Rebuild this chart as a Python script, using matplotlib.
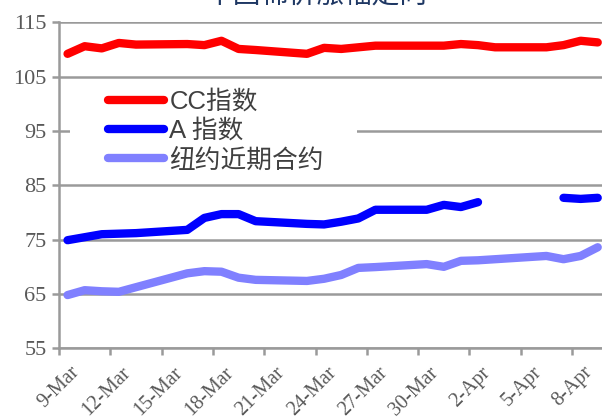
import matplotlib
matplotlib.use("Agg")
import matplotlib.pyplot as plt
import matplotlib.dates as mdates
import matplotlib.transforms as mtransforms
from matplotlib.patches import Rectangle
import numpy as np
import pandas as pd

title = "中国棉价涨幅走向"
dates = ["2015-03-09", "2015-03-10", "2015-03-11", "2015-03-12", "2015-03-13",
         "2015-03-16", "2015-03-17", "2015-03-18", "2015-03-19", "2015-03-20",
         "2015-03-23", "2015-03-24", "2015-03-25", "2015-03-26", "2015-03-27",
         "2015-03-30", "2015-03-31", "2015-04-01", "2015-04-02", "2015-04-03",
         "2015-04-06", "2015-04-07", "2015-04-08", "2015-04-09"]
cc_index = [109.2, 110.6, 110.2, 111.2, 110.9,
            111.0, 110.8, 111.6, 110.1, 109.9,
            109.2, 110.3, 110.1, 110.4, 110.7,
            110.7, 110.7, 111.0, 110.8, 110.4,
            110.4, 110.8, 111.6, 111.3]
a_index = [74.9, 75.45, 76.0, 76.1, 76.2,
           76.8, 79.0, 79.7, 79.7, 78.4,
           77.9, 77.8, 78.3, 78.9, 80.5,
           80.5, 81.4, 81.0, 81.9, np.nan,
           np.nan, 82.7, 82.5, 82.7]
ny_near = [64.8, 65.7, 65.5, 65.4, 66.25,
           68.8, 69.2, 69.1, 68.0, 67.6,
           67.4, 67.8, 68.5, 69.8, 69.95,
           70.5, 70.0, 71.1, 71.2, 71.4,
           72.0, 71.4, 72.0, 73.6]
labels = ["CC指数", "A 指数", "纽约近期合约"]
colors = ["#FF0000", "#0000FF", "#8080FF"]
yticks = [55, 65, 75, 85, 95, 105, 115]
xtick_dates = ["2015-03-09", "2015-03-12", "2015-03-15", "2015-03-18", "2015-03-21",
               "2015-03-24", "2015-03-27", "2015-03-30", "2015-04-02", "2015-04-05",
               "2015-04-08"]

x = pd.to_datetime(dates) + pd.Timedelta(hours=12)

fig = plt.figure(figsize=(6.02, 4.17), dpi=100)
ax = fig.add_axes([0.098, 0.1647, 0.902, 0.7818])

grid_c = "#9A9A9A"
for s, lab, c in zip([cc_index, a_index, ny_near], labels, colors):
    ax.plot(x, s, color=c, lw=6, solid_capstyle="round", solid_joinstyle="round",
            label=lab, zorder=3)

start = pd.Timestamp("2015-03-09")
ax.set_xlim(start, start + pd.Timedelta(days=31.75))
ax.set_ylim(55, 115)
ax.set_yticks(yticks)
ax.set_xticks(pd.to_datetime(xtick_dates))
ax.xaxis.set_major_formatter(mdates.DateFormatter("%-d-%b"))

ax.grid(axis="y", color=grid_c, lw=1.8, zorder=0)
ax.set_axisbelow(True)
for sp in ["top", "right"]:
    ax.spines[sp].set_visible(False)
for sp in ["left", "bottom"]:
    ax.spines[sp].set_color(grid_c)
    ax.spines[sp].set_linewidth(1.8)
ax.tick_params(axis="both", color=grid_c, width=1.8, length=5, direction="out")
ax.tick_params(axis="y", labelsize=16, labelcolor="#595959", pad=4)
ax.tick_params(axis="x", labelsize=14.5, labelcolor="#595959", pad=2)
for t in ax.get_yticklabels():
    t.set_family("Liberation Serif")
offset = mtransforms.ScaledTranslation(11 / 100, -5 / 100, fig.dpi_scale_trans)
for t in ax.get_xticklabels():
    t.set_family("Liberation Serif")
    t.set_rotation(45)
    t.set_ha("right")
    t.set_va("top")
    t.set_rotation_mode("anchor")
    t.set_transform(t.get_transform() + offset)

# white backing box behind the legend (covers grid line)
ax.add_patch(Rectangle((0.02, 0.532), 0.529, 0.285, transform=ax.transAxes,
                       facecolor="white", edgecolor="none", zorder=1))
leg = ax.legend(loc="upper left", bbox_to_anchor=(0.066, 0.832), frameon=False,
                borderpad=0, handlelength=2.2, handletextpad=0.2, labelspacing=0.2,
                prop={"family": ["Liberation Sans", "Noto Sans CJK SC"], "size": 18.5})
for t in leg.get_texts():
    t.set_color("#404040")
leg.set_zorder(5)

fig.text(0.525, 1 - 4 / 417, title, ha="center", va="baseline", fontsize=20,
         color="#1F3864", family=["Noto Sans CJK SC", "DejaVu Sans"])

fig.savefig("out.png", dpi=100)
